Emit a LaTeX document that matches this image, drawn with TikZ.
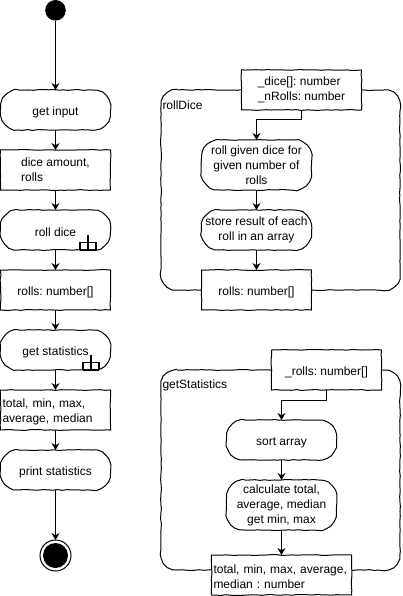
\documentclass[tikz,border=0pt]{standalone}
\usepackage{fontspec}
\setmainfont{Liberation Sans}
\usetikzlibrary{arrows.meta,positioning,decorations.pathmorphing}
\pgfmathsetseed{42}
\frenchspacing

\begin{document}
\begin{tikzpicture}[x=1pt, y=1pt, node distance=20pt, line width=1pt, >={Stealth[length=7pt,width=8pt]},
  every node/.style={font=\fontsize{12}{15}\selectfont, inner sep=0pt, outer sep=0pt, align=center},
  wobbly/.style={draw, decorate, decoration={random steps, segment length=5pt, amplitude=.4pt}},
  softedge/.style={append after command={\pgfextra{\draw[wobbly] ([xshift=#1]\tikzlastnode.north west) -- ([xshift=-#1]\tikzlastnode.north east) arc[start angle=90, end angle=0, radius=#1] -- ([yshift=#1]\tikzlastnode.south east) arc[start angle=0, end angle=-90, radius=#1] -- ([xshift=#1]\tikzlastnode.south west) arc[start angle=270, end angle=180, radius=#1] -- ([yshift=-#1]\tikzlastnode.north west) arc[start angle=180, end angle=90, radius=#1] -- cycle;}}},
  lowered/.style={execute at begin node=\rule{0pt}{13pt}},
  activity/.style={softedge=18pt, lowered, minimum width=110pt, minimum height=40pt},
  databox/.style={wobbly, fill=white, lowered, minimum width=110pt, minimum height=40pt},
  frame/.style={softedge=16pt, minimum width=239pt, minimum height=200pt, anchor=north west},
  framelabel/.style={anchor=west},
  rake/.pic={\draw[line width=1.2pt] (0,0) -- (0,15) (-8,0) -- (-8,7.5) -- (8,7.5) -- (8,0) (-8,0) -- (8,0);}]
\useasboundingbox (0,0) rectangle (402,-596);

% main flow
\node[circle, fill=black, minimum size=20.6pt] (start) at (55.5,-10.3) {};
\node[activity] (getInput) at (55.5,-110) {get input};
\node[databox, below=of getInput, align=left] (diceData) {dice amount,\\rolls};
\node[activity, below=of diceData] (rollStep) {roll dice};
\node[databox, below=of rollStep] (rollsData) {rolls: number[]};
\node[activity, below=of rollsData] (statsStep) {get statistics};
\node[databox, below=of statsStep, align=left, minimum width=0pt, text width=106pt, inner xsep=2pt] (statsData) {total, min, max,\\average, median};
\node[activity, below=of statsData] (printStep) {print statistics};
\node[circle, draw, fill=white, minimum size=31pt, below=50pt of printStep] (endRing) {};
\node[circle, fill=black, minimum size=25pt] (endDot) at (endRing.center) {};
\pic at ([xshift=-22.5pt]rollStep.south east) {rake};
\pic at ([xshift=-19.5pt]statsStep.south east) {rake};
\draw[->] (start) -- (getInput);
\draw[->] (getInput) -- (diceData);
\draw[->] (diceData) -- (rollStep);
\draw[->] (rollStep) -- (rollsData);
\draw[->] (rollsData) -- (statsStep);
\draw[->] (statsStep) -- (statsData);
\draw[->] (statsData) -- (printStep);
\draw[->] (printStep) -- (endRing);

% rollDice
\node[frame] (rollFrame) at (161,-90) {};
\node[framelabel, below right=15.5pt and 1.5pt of rollFrame.north west, anchor=west] (rollLabel) {rollDice};
\node[databox, minimum width=120pt, align=left] (rollIn) at (301.5,-90) {\_dice[]: number\\\_nRolls: number};
\node[activity, minimum height=50pt] (rollGiven) at (256.5,-165) {roll given dice for\\given number of\\rolls};
\node[activity, below=of rollGiven] (rollStore) {store result of each\\roll in an array};
\node[databox, below=of rollStore] (rollOut) {rolls: number[]};
\draw[->] (rollIn.south) -- ++(0,-10) -| (rollGiven.north);
\draw[->] (rollGiven) -- (rollStore);
\draw[->] (rollStore) -- (rollOut);

% getStatistics
\node[frame] (statsFrame) at (161,-370) {};
\node[framelabel, below right=15.5pt and 1.5pt of statsFrame.north west, anchor=west] (statsLabel) {getStatistics};
\node[databox, align=left] (statsIn) at (326.5,-370) {\_rolls: number[]};
\node[activity] (sortStep) at (281.5,-440) {sort array};
\node[activity, minimum height=50pt, below=of sortStep] (calcStep) {calculate total,\\average, median\\get min, max};
\node[databox, below=25pt of calcStep, minimum width=0pt, text width=136pt, inner xsep=2pt, align=left] (statsOut) {total, min, max, average,\\median : number};
\draw[->] (statsIn.south) -- ++(0,-10) -| (sortStep.north);
\draw[->] (sortStep) -- (calcStep);
\draw[->] (calcStep) -- (statsOut);
\end{tikzpicture}
\end{document}
